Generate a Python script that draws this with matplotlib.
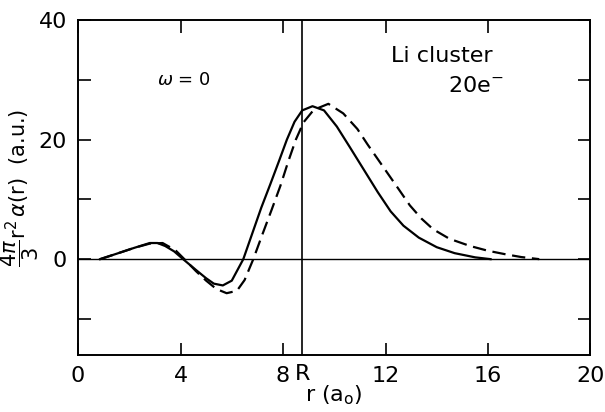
import matplotlib
matplotlib.use("Agg")
import matplotlib.pyplot as plt

# solid curve
r_solid = [0.86, 1.5, 2.2, 2.8, 3.1, 3.4, 3.75, 4.1, 4.6, 5.0, 5.3, 5.65, 6.0,
           6.45, 6.8, 7.15, 7.5, 7.85, 8.15, 8.45, 8.75, 9.15, 9.6, 10.1, 10.6,
           11.15, 11.7, 12.2, 12.7, 13.3, 14.0, 14.7, 15.5, 16.1]
a_solid = [0, 0.9, 1.9, 2.7, 2.7, 2.2, 1.3, 0, -1.8, -3.2, -4.1, -4.4, -3.6,
           0, 4.3, 8.6, 12.5, 16.5, 20, 23, 24.9, 25.6, 24.9, 22.2, 18.8,
           15, 11.2, 8.0, 5.6, 3.6, 2.0, 1.0, 0.3, 0]

# dashed curve
r_dash = [0.86, 1.5, 2.2, 2.8, 3.3, 3.8, 4.15, 4.6, 5.0, 5.4, 5.8, 6.2, 6.5,
          6.84, 7.2, 7.55, 7.9, 8.2, 8.5, 8.8, 9.2, 9.77, 10.35, 10.9, 11.3,
          11.9, 12.5, 12.95, 13.4, 13.86, 14.5, 15.3, 16.0, 16.7, 17.3, 18.0]
a_dash = [0, 0.9, 1.9, 2.6, 2.7, 1.5, 0, -2.0, -3.6, -5.0, -5.7, -5.3, -3.5,
          0, 4.2, 8.2, 12.3, 16.3, 20, 22.9, 25.0, 26.0, 24.4, 21.8, 19.2,
          15.5, 11.8, 9.0, 6.8, 5.0, 3.4, 2.2, 1.4, 0.8, 0.35, 0]

R = 8.75
xticks = [0, 4, 8, 12, 16, 20]
yticks = [0, 20, 40]
yminor = [-10, 10, 30]

fig = plt.figure(figsize=(6.05, 4.12), dpi=100)
ax = fig.add_axes([0.129, 0.139, 0.847, 0.812])

ax.plot(r_solid, a_solid, color="black", lw=1.6)
ax.plot(r_dash, a_dash, color="black", lw=1.6, dashes=(6, 3))
ax.axhline(0, color="black", lw=1.0)
ax.axvline(R, color="black", lw=1.2)

ax.set_xlim(0, 20)
ax.set_ylim(-16, 40)
ax.set_xticks(xticks)
ax.set_yticks(yticks)
ax.set_yticks(yminor, minor=True)
ax.tick_params(which="both", direction="in", length=9, width=1.2,
               top=True, right=True, labelsize=16, pad=8)
for s in ax.spines.values():
    s.set_linewidth(1.4)

ax.text(R, -17.5, "R", ha="center", va="top", fontsize=16)
ax.text(3.1, 30, r"$\omega$ = 0", fontsize=13, va="center")
ax.text(12.2, 34, "Li cluster", fontsize=16, va="center")
ax.text(16.6, 29, "20e$^{-}$", fontsize=16, va="center", ha="right")

ax.set_xlabel(r"r (a$_\mathrm{o}$)", fontsize=16, labelpad=-2)
ax.set_ylabel(r"$\dfrac{4\pi}{3}$r$^2\,\alpha$(r)  (a.u.)", fontsize=15, labelpad=-2)

fig.savefig("out.png", dpi=100)
